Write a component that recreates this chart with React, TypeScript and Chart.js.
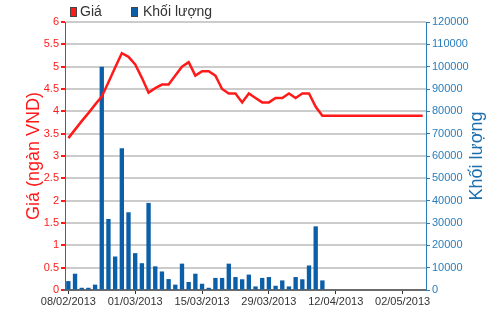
import React, { useEffect, useRef } from "react";
import { Chart, registerables } from "chart.js";

Chart.register(...registerables);

const dates: string[] = [
  "08/02/2013", "18/02/2013", "19/02/2013", "20/02/2013", "21/02/2013", "22/02/2013",
  "25/02/2013", "26/02/2013", "27/02/2013", "28/02/2013", "01/03/2013",
  "04/03/2013", "05/03/2013", "06/03/2013", "07/03/2013", "08/03/2013",
  "11/03/2013", "12/03/2013", "13/03/2013", "14/03/2013", "15/03/2013",
  "18/03/2013", "19/03/2013", "20/03/2013", "21/03/2013", "22/03/2013",
  "25/03/2013", "26/03/2013", "27/03/2013", "28/03/2013", "29/03/2013",
  "01/04/2013", "02/04/2013", "03/04/2013", "04/04/2013", "05/04/2013",
  "08/04/2013", "09/04/2013", "10/04/2013", "11/04/2013", "12/04/2013",
  "15/04/2013", "16/04/2013", "17/04/2013", "18/04/2013",
  "22/04/2013", "23/04/2013", "24/04/2013", "25/04/2013", "26/04/2013",
  "02/05/2013", "03/05/2013", "06/05/2013", "07/05/2013",
];

const shownLabels: string[] = [
  "08/02/2013", "01/03/2013", "15/03/2013", "29/03/2013", "12/04/2013", "02/05/2013",
];

const price: number[] = [
  3.4, 3.59, 3.78, 3.96, 4.15, 4.33, 4.65, 4.98, 5.3, 5.22,
  5.05, 4.75, 4.42, 4.52, 4.6, 4.6, 4.8, 5.0, 5.1, 4.8,
  4.9, 4.9, 4.8, 4.5, 4.4, 4.4, 4.2, 4.4, 4.3, 4.2,
  4.2, 4.3, 4.3, 4.4, 4.3, 4.4, 4.4, 4.1, 3.9, 3.9,
  3.9, 3.9, 3.9, 3.9, 3.9, 3.9, 3.9, 3.9, 3.9, 3.9,
  3.9, 3.9, 3.9, 3.9,
];

const volume: (number | null)[] = [
  4000, 7300, 1000, 1000, 2400, 100000, 31800, 15000, 63500, 34800,
  16500, 12000, 39000, 10600, 8300, 4900, 2400, 11800, 3600, 7300,
  2800, 1000, 5400, 5400, 11800, 5800, 4800, 6900, 1600, 5400,
  5800, 1900, 4300, 1600, 5800, 4800, 11000, 28500, 4300, null,
  null, null, null, null, null, null, null, null, null, null,
  null, null, null, null,
];

const priceTicks: number[] = [0, 0.5, 1, 1.5, 2, 2.5, 3, 3.5, 4, 4.5, 5, 5.5, 6];

const legendPrice = "Giá";
const legendVolume = "Khối lượng";
const titlePrice = "Giá (ngàn VND)";
const titleVolume = "Khối lượng";

const RED = "#ff1a1a";
const BLUE = "#0b5ea8";
const BLUE_TEXT = "#2a7db9";
const NARROW = '"Liberation Sans Narrow", "Arial Narrow", "Liberation Sans", Arial, sans-serif';
const SANS = '"Liberation Sans", Arial, sans-serif';

const decorPlugin = {
  id: "decor",
  afterDraw(chart: any) {
    const ctx = chart.ctx;
    const area = chart.chartArea;
    ctx.save();
    // legend
    ctx.font = `14px ${SANS}`;
    ctx.textBaseline = "middle";
    ctx.textAlign = "left";
    ctx.lineWidth = 1;
    ctx.fillStyle = RED;
    ctx.fillRect(70, 7, 7, 10);
    ctx.strokeStyle = "#444";
    ctx.strokeRect(70.5, 7.5, 6, 9);
    ctx.fillStyle = "#333";
    ctx.fillText(legendPrice, 80, 12.5);
    ctx.fillStyle = BLUE;
    ctx.fillRect(131, 7, 7, 10);
    ctx.strokeRect(131.5, 7.5, 6, 9);
    ctx.fillStyle = "#333";
    ctx.fillText(legendVolume, 143, 12.5);
    // axis titles
    const cy = (area.top + area.bottom) / 2;
    ctx.font = `18px ${SANS}`;
    ctx.textAlign = "center";
    ctx.fillStyle = RED;
    ctx.translate(34, cy);
    ctx.rotate(-Math.PI / 2);
    ctx.fillText(titlePrice, 0, 0);
    ctx.restore();
    ctx.save();
    ctx.font = `18px ${SANS}`;
    ctx.textAlign = "center";
    ctx.textBaseline = "middle";
    ctx.fillStyle = "#1c6fae";
    ctx.translate(477, cy);
    ctx.rotate(-Math.PI / 2);
    ctx.fillText(titleVolume, 0, 0);
    ctx.restore();
  },
};

export default function App() {
  const ref = useRef<HTMLCanvasElement | null>(null);
  useEffect(() => {
    if (!ref.current) return;
    const chart = new Chart(ref.current, {
      type: "bar",
      data: {
        labels: dates,
        datasets: [
          {
            type: "line",
            label: legendPrice,
            data: price,
            yAxisID: "yPrice",
            borderColor: RED,
            backgroundColor: RED,
            borderWidth: 2.5,
            pointRadius: 0,
            tension: 0,
            order: 0,
          } as any,
          {
            type: "bar",
            label: legendVolume,
            data: volume,
            yAxisID: "yVol",
            backgroundColor: BLUE,
            borderWidth: 0,
            barPercentage: 0.65,
            categoryPercentage: 1,
            order: 1,
          },
        ],
      },
      options: {
        animation: false,
        responsive: true,
        maintainAspectRatio: false,
        layout: { padding: { top: 22, left: 0, right: 0, bottom: 0 } },
        plugins: { legend: { display: false }, tooltip: { enabled: false } },
        scales: {
          x: {
            type: "category",
            offset: true,
            afterFit: (s: any) => { s.height = 22; },
            grid: {
              drawOnChartArea: false,
              offset: false,
              tickLength: 4,
              color: (c: any) => (shownLabels.includes(dates[c.index]) ? "#333" : "rgba(0,0,0,0)"),
            },
            border: { display: true, color: "#6b6b6b", width: 2 },
            ticks: {
              autoSkip: false,
              maxRotation: 0,
              minRotation: 0,
              padding: 1,
              color: "#333",
              font: { family: NARROW, size: 11 },
              callback: (_v: any, i: number) => (shownLabels.includes(dates[i]) ? dates[i] : ""),
            },
          },
          yPrice: {
            type: "linear",
            position: "left",
            min: 0,
            max: 6,
            afterFit: (s: any) => { s.width = 65; },
            afterBuildTicks: (s: any) => { s.ticks = priceTicks.map((v) => ({ value: v })); },
            grid: {
              drawOnChartArea: true,
              drawTicks: true,
              tickLength: 4,
              lineWidth: (c: any) => (c.tick && c.tick.value === 6 ? 2 : 2),
              color: (c: any) => {
                if (c.type === "tick" || c.tick === undefined) return "#ccc";
                return c.tick.value === 6 ? "#6b6b6b" : "#d4d4d4";
              },
              tickColor: RED,
            },
            border: { display: true, color: RED, width: 1 },
            ticks: {
              color: RED,
              padding: 2,
              font: { family: NARROW, size: 11 },
              callback: (v: any) => String(v),
            },
          },
          yVol: {
            type: "linear",
            position: "right",
            min: 0,
            max: 120000,
            afterFit: (s: any) => { s.width = 74; },
            grid: {
              drawOnChartArea: false,
              tickLength: 4,
              color: BLUE_TEXT,
            },
            border: { display: true, color: BLUE_TEXT, width: 1 },
            ticks: {
              stepSize: 10000,
              color: BLUE_TEXT,
              padding: 2,
              font: { family: NARROW, size: 11 },
              callback: (v: any) => String(v),
            },
          },
        },
      },
      plugins: [decorPlugin],
    });
    return () => chart.destroy();
  }, []);
  return (
    <div style={{ position: "absolute", left: 0, top: 0, width: 500, height: 312, background: "#fff" }}>
      <canvas ref={ref} />
    </div>
  );
}
